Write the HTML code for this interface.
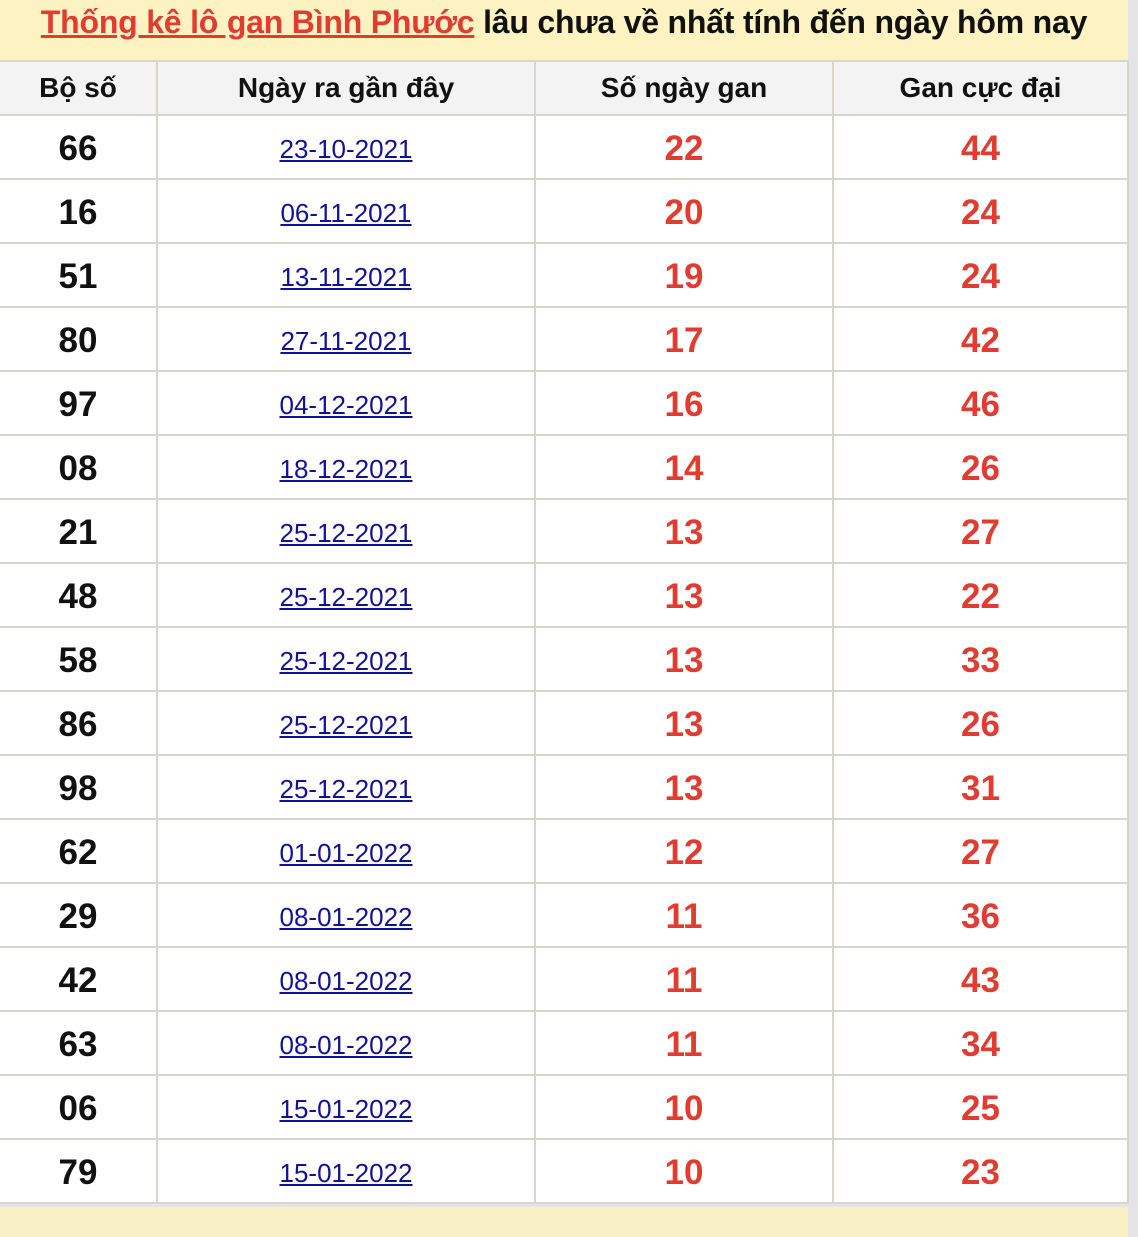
<!DOCTYPE html>
<html><head><meta charset="utf-8"><style>
html,body{margin:0;padding:0;width:1138px;height:1232px;overflow:hidden;background:#e4e4e6;font-family:"Liberation Sans",Arial,sans-serif}
.wrap{position:absolute;left:0;top:0;width:1128px;background:#fff}
.title{height:60px;background:#fdf2c2;font-weight:bold;font-size:32px;line-height:44px;text-align:center;color:#111;white-space:nowrap;letter-spacing:-0.2px}
.title a{color:#e03c31;text-decoration:underline}
table{border-collapse:collapse;width:1128px;table-layout:fixed}
td,th{border:2px solid #d8d4d0;text-align:center;padding:0}
th{height:52px;background:#f3f3f3;font-size:28px;font-weight:bold;color:#111}
td{height:58px;padding-top:4px;font-size:35px;font-weight:bold}
td.n{color:#111}
td.d{font-size:26px;font-weight:normal}
td.d a{color:#10109a;text-decoration:underline}
td.r{color:#e03c31}
tr>*:first-child{border-left:none}
.foot{position:absolute;left:0;top:1207px;width:1128px;height:30px;background:#f9efc4}
</style></head><body>
<div class="wrap">
<div class="title"><a>Thống kê lô gan Bình Phước</a> lâu chưa về nhất tính đến ngày hôm nay</div>
<table>
<colgroup><col style="width:157px"><col style="width:378px"><col style="width:298px"><col style="width:295px"></colgroup>
<tr><th>Bộ số</th><th>Ngày ra gần đây</th><th>Số ngày gan</th><th>Gan cực đại</th></tr>
<tr><td class="n">66</td><td class="d"><a>23-10-2021</a></td><td class="r">22</td><td class="r">44</td></tr>
<tr><td class="n">16</td><td class="d"><a>06-11-2021</a></td><td class="r">20</td><td class="r">24</td></tr>
<tr><td class="n">51</td><td class="d"><a>13-11-2021</a></td><td class="r">19</td><td class="r">24</td></tr>
<tr><td class="n">80</td><td class="d"><a>27-11-2021</a></td><td class="r">17</td><td class="r">42</td></tr>
<tr><td class="n">97</td><td class="d"><a>04-12-2021</a></td><td class="r">16</td><td class="r">46</td></tr>
<tr><td class="n">08</td><td class="d"><a>18-12-2021</a></td><td class="r">14</td><td class="r">26</td></tr>
<tr><td class="n">21</td><td class="d"><a>25-12-2021</a></td><td class="r">13</td><td class="r">27</td></tr>
<tr><td class="n">48</td><td class="d"><a>25-12-2021</a></td><td class="r">13</td><td class="r">22</td></tr>
<tr><td class="n">58</td><td class="d"><a>25-12-2021</a></td><td class="r">13</td><td class="r">33</td></tr>
<tr><td class="n">86</td><td class="d"><a>25-12-2021</a></td><td class="r">13</td><td class="r">26</td></tr>
<tr><td class="n">98</td><td class="d"><a>25-12-2021</a></td><td class="r">13</td><td class="r">31</td></tr>
<tr><td class="n">62</td><td class="d"><a>01-01-2022</a></td><td class="r">12</td><td class="r">27</td></tr>
<tr><td class="n">29</td><td class="d"><a>08-01-2022</a></td><td class="r">11</td><td class="r">36</td></tr>
<tr><td class="n">42</td><td class="d"><a>08-01-2022</a></td><td class="r">11</td><td class="r">43</td></tr>
<tr><td class="n">63</td><td class="d"><a>08-01-2022</a></td><td class="r">11</td><td class="r">34</td></tr>
<tr><td class="n">06</td><td class="d"><a>15-01-2022</a></td><td class="r">10</td><td class="r">25</td></tr>
<tr><td class="n">79</td><td class="d"><a>15-01-2022</a></td><td class="r">10</td><td class="r">23</td></tr>
</table>
</div>
<div class="foot"></div>
</body></html>
